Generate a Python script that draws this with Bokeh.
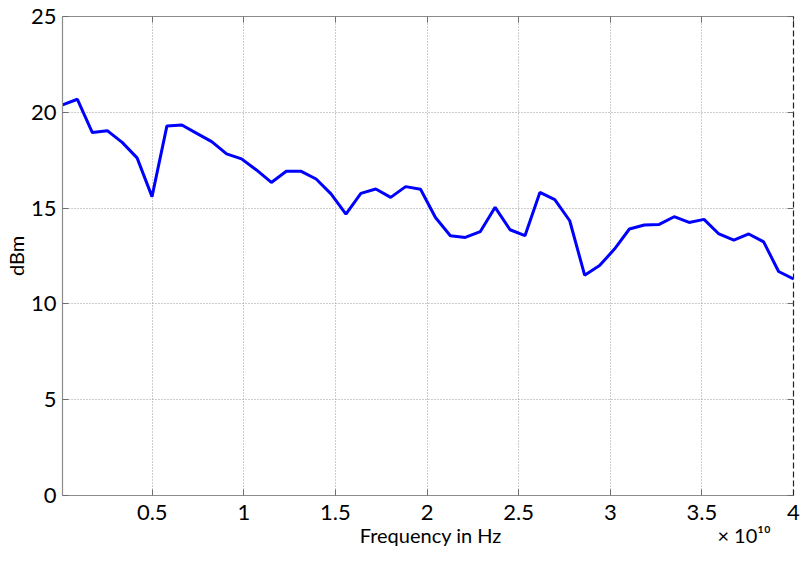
from bokeh.plotting import figure
from bokeh.models import (Range1d, FixedTicker, LinearAxis, CustomJSTickFormatter)
from bokeh.embed import file_html
from bokeh.resources import INLINE

# Frequency samples in GHz
freq_ghz = [1.0, 9.14, 17.29, 25.43, 33.57, 41.71, 49.86, 58.0, 66.14, 74.29,
            82.43, 90.57, 98.71, 106.86, 115.0, 123.14, 131.29, 139.43, 147.57, 155.71,
            163.86, 172.0, 180.14, 188.29, 196.43, 204.57, 212.71, 220.86, 229.0, 237.14,
            245.29, 253.43, 261.57, 269.71, 277.86, 286.0, 294.14, 302.29, 310.43, 318.57,
            326.71, 334.86, 343.0, 351.14, 359.29, 367.43, 375.57, 383.71, 391.86, 400.0]
# Power in dBm
power_dbm = [20.39, 20.68, 18.94, 19.04, 18.43, 17.62, 15.6, 19.29, 19.34, 18.9,
             18.47, 17.83, 17.57, 16.99, 16.34, 16.92, 16.92, 16.52, 15.74, 14.69,
             15.77, 16.0, 15.56, 16.12, 15.98, 14.51, 13.56, 13.47, 13.77, 15.04,
             13.87, 13.56, 15.82, 15.44, 14.34, 11.5, 12.0, 12.86, 13.91, 14.12,
             14.15, 14.55, 14.25, 14.41, 13.65, 13.33, 13.65, 13.24, 11.69, 11.3]
x_ticks = [0.5e10, 1.0e10, 1.5e10, 2.0e10, 2.5e10, 3.0e10, 3.5e10, 4.0e10]
y_ticks = [0, 5, 10, 15, 20, 25]
x_title = "Frequency in Hz"
x_exponent = "\u00d7 10\u00b9\u2070"
# where the x title and the exponent note sit along the x axis (Hz)
note_ticks = [2.02e10, 3.73e10]

freq_hz = [f * 1e8 for f in freq_ghz]

FONT = "Lato"

p = figure(width=804, height=562, output_backend="svg", toolbar_location=None,
           x_range=Range1d(1e8, 4e10), y_range=Range1d(0, 25),
           x_axis_location=None, y_axis_location=None,
           min_border_left=62, min_border_right=11, min_border_top=16, min_border_bottom=67)
p.outline_line_color = None
p.background_fill_color = "white"
p.border_fill_color = "white"

fmt = CustomJSTickFormatter(code="return String(Math.round(tick/1e9)/10);")

def style_axis(ax, labels=True):
    ax.axis_line_color = "#8c8c8c"
    ax.axis_line_width = 1.2
    ax.major_tick_in = 6
    ax.major_tick_out = 0
    ax.major_tick_line_color = "#6e6e6e"
    ax.minor_tick_line_color = None
    if labels:
        ax.major_label_text_font = FONT
        ax.major_label_text_font_size = "22px"
        ax.major_label_text_color = "black"
    else:
        ax.major_label_text_font_size = "0px"
        ax.major_label_text_alpha = 0

xb = LinearAxis(ticker=FixedTicker(ticks=x_ticks), formatter=fmt)
style_axis(xb)
xb.major_label_standoff = 9
p.add_layout(xb, "below")

# second row below: x title and exponent note, as tick labels of a bare axis
note_fmt = CustomJSTickFormatter(
    args=dict(t=x_title, e=x_exponent),
    code="return tick < 3e10 ? t : e;")
xn = LinearAxis(ticker=FixedTicker(ticks=note_ticks), formatter=note_fmt)
xn.axis_line_color = None
xn.major_tick_line_color = None
xn.minor_tick_line_color = None
xn.major_tick_in = 0
xn.major_tick_out = 0
xn.major_label_standoff = 0
xn.major_label_text_font = FONT
xn.major_label_text_font_size = "20px"
xn.major_label_text_color = "black"
p.add_layout(xn, "below")

yl = LinearAxis(ticker=FixedTicker(ticks=y_ticks))
style_axis(yl)
yl.major_label_standoff = 6
yl.axis_label = "dBm"
yl.axis_label_text_font = FONT
yl.axis_label_text_font_size = "20px"
yl.axis_label_text_font_style = "normal"
yl.axis_label_text_color = "black"
yl.axis_label_standoff = 0
p.add_layout(yl, "left")

xt = LinearAxis(ticker=FixedTicker(ticks=x_ticks))
style_axis(xt, labels=False)
p.add_layout(xt, "above")

yr = LinearAxis(ticker=FixedTicker(ticks=y_ticks))
style_axis(yr, labels=False)
yr.axis_line_color = "#222222"
yr.axis_line_dash = "6 3"
p.add_layout(yr, "right")

p.xgrid.ticker = FixedTicker(ticks=x_ticks)
p.ygrid.ticker = FixedTicker(ticks=y_ticks)
for g in (p.xgrid, p.ygrid):
    g.grid_line_color = "#9a9a9a"
    g.grid_line_dash = "1 2"
    g.grid_line_width = 1

p.line(freq_hz, power_dbm, line_color="#0000ff", line_width=3)

open("out.html", "w").write(file_html(p, INLINE))
